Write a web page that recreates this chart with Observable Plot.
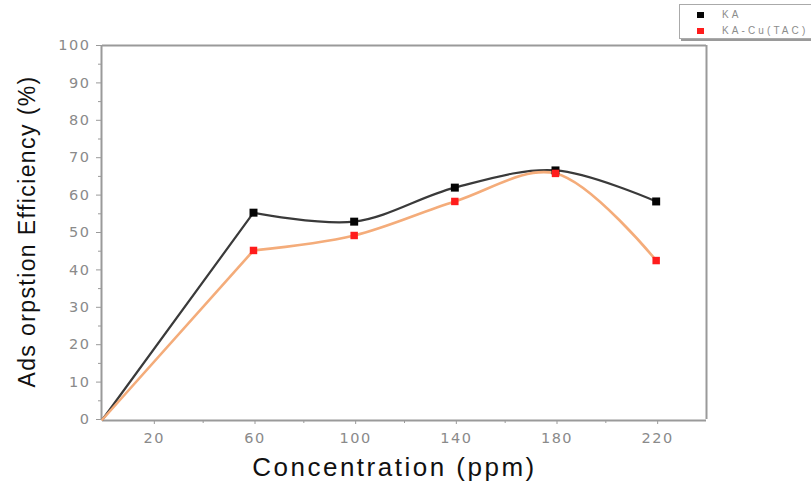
<!DOCTYPE html>
<html>
<head>
<meta charset="utf-8">
<script src="https://cdn.jsdelivr.net/npm/d3@7"></script>
<script src="https://cdn.jsdelivr.net/npm/@observablehq/plot@0.6"></script>
<style>
  html, body { margin: 0; padding: 0; background: #fff; }
  #wrap { position: relative; width: 811px; height: 495px; overflow: hidden; font-family: "Liberation Sans", Arial, sans-serif; }
  #legend { position: absolute; left: 679px; top: 4px; width: 140px; height: 33px; background: #fff; border: 1px solid #aaa; box-shadow: 2px 2px 0 #9a9a9a; }
  .lg-row { position: absolute; left: 0; height: 12px; font-size: 10px; color: #8c8c8c; letter-spacing: 3.1px; line-height: 12px; }
  .lg-sw { position: absolute; left: 17px; top: 3px; width: 7px; height: 6px; }
  .lg-tx { position: absolute; left: 42px; top: 0; white-space: nowrap; }
</style>
</head>
<body>
<div id="wrap"></div>
<script>
// ---- data ----
const concentration = [0, 60, 100, 140, 180, 220];
const kaValues = [0, 55.3, 52.9, 62.0, 66.6, 58.3];
const kaCuValues = [0, 45.2, 49.2, 58.3, 65.8, 42.5];
const seriesNames = ["KA", "KA-Cu(TAC)"];
const xTickLabels = [20, 60, 100, 140, 180, 220];
const xMinorTicks = [40, 80, 120, 160, 200];
const yTickLabels = [0, 10, 20, 30, 40, 50, 60, 70, 80, 90, 100];
const yMinorTicks = [5, 15, 25, 35, 45, 55, 65, 75, 85, 95];
const xTitle = "Concentration (ppm)";
const yTitle = "Ads orpstion Efficiency (%)";

const ka = concentration.map((c, i) => ({x: c, y: kaValues[i]}));
const kaCu = concentration.map((c, i) => ({x: c, y: kaCuValues[i]}));
// first leg (origin to first measured point) straight, the rest smooth
const kaStart = ka.slice(0, 2), kaRest = ka.slice(1);
const kaCuStart = kaCu.slice(0, 2), kaCuRest = kaCu.slice(1);

const axisColor = "#9a9a9a";
const tickText = "#8a8a8a";
const tickFont = "'DejaVu Sans', sans-serif";

const chart = Plot.plot({
  width: 811,
  height: 495,
  marginLeft: 102,
  marginRight: 105,
  marginTop: 45,
  marginBottom: 76,
  style: {fontFamily: "'Liberation Sans', Arial, sans-serif", background: "#fff"},
  x: {domain: [0, 240]},
  y: {domain: [0, 100]},
  marks: [
    // frame
    Plot.ruleY([100], {stroke: axisColor, strokeWidth: 2}),
    Plot.ruleX([240], {stroke: axisColor, strokeWidth: 2}),
    Plot.ruleX([0], {stroke: axisColor, strokeWidth: 2, dx: -1}),
    Plot.ruleY([0], {stroke: axisColor, strokeWidth: 2, dy: 1}),
    // axes
    Plot.axisY({ticks: yTickLabels, tickSize: 5, tickPadding: 6, label: null, stroke: axisColor, color: tickText, fontSize: 14.5, fontFamily: tickFont, dx: -1, tickFormat: d => d}),
    Plot.axisY({ticks: yMinorTicks, tickSize: 3, text: null, label: null, stroke: axisColor, dx: -1}),
    Plot.axisX({ticks: xTickLabels, tickSize: 4, tickPadding: 8, label: null, stroke: axisColor, color: tickText, fontSize: 14.5, fontFamily: tickFont, dy: 1, dx: 1.5, tickFormat: d => d}),
    Plot.axisX({ticks: xMinorTicks, tickSize: 3, text: null, label: null, stroke: axisColor, dy: 1}),
    // series lines
    Plot.line(kaStart, {x: "x", y: "y", stroke: "#3a3a3a", strokeWidth: 2.2}),
    Plot.line(kaRest, {x: "x", y: "y", curve: "catmull-rom", stroke: "#3a3a3a", strokeWidth: 2.2}),
    Plot.line(kaCuStart, {x: "x", y: "y", stroke: "#f4ac7a", strokeWidth: 2.6}),
    Plot.line(kaCuRest, {x: "x", y: "y", curve: "catmull-rom", stroke: "#f4ac7a", strokeWidth: 2.6}),
    Plot.dot(ka.filter(d => d.x > 0), {x: "x", y: "y", symbol: "square", r: 4.5, fill: "#050505", stroke: "none"}),
    Plot.dot(kaCu.filter(d => d.x > 0), {x: "x", y: "y", symbol: "square", r: 4.2, fill: "#ff1c1c", stroke: "none"}),
    // axis titles
    Plot.text([xTitle], {frameAnchor: "bottom", dy: 56, dx: -10, fontSize: 26, fill: "#111"}),
    Plot.text([yTitle], {frameAnchor: "left", textAnchor: "middle", rotate: -90, dx: -75, dy: -1, fontSize: 23, fill: "#111"})
  ]
});

// letter spacing (the reference's text is drawn wide)
const svg = d3.select(chart.tagName.toLowerCase() === "svg" ? chart : chart.querySelector("svg"));
svg.selectAll("text").each(function() {
  const t = d3.select(this);
  const s = t.text();
  if (s === xTitle) t.style("letter-spacing", "2.5px");
  else if (s === yTitle) t.style("letter-spacing", "1.4px");
  else if (/^\d+$/.test(s)) t.style("letter-spacing", "1.5px");
});

const wrap = document.getElementById("wrap");
wrap.appendChild(chart);

// legend
const legend = document.createElement("div");
legend.id = "legend";
const swatchColors = ["#050505", "#ff1c1c"];
seriesNames.forEach((name, i) => {
  const row = document.createElement("div");
  row.className = "lg-row";
  row.style.top = (4 + i * 16) + "px";
  row.style.width = "140px";
  const sw = document.createElement("div");
  sw.className = "lg-sw";
  sw.style.background = swatchColors[i];
  const tx = document.createElement("div");
  tx.className = "lg-tx";
  tx.textContent = name;
  row.appendChild(sw);
  row.appendChild(tx);
  legend.appendChild(row);
});
wrap.appendChild(legend);
</script>
</body>
</html>
